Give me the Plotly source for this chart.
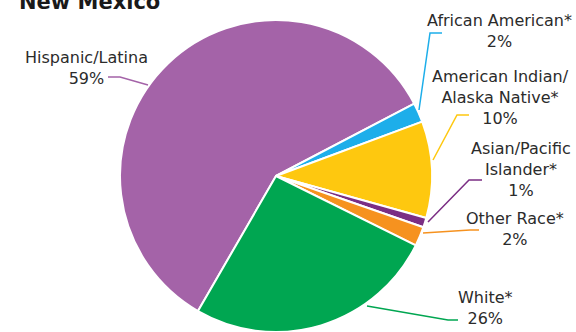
import plotly.graph_objects as go

# Data
groups = ["Hispanic/Latina", "African American*", "American Indian/<br>Alaska Native*",
          "Asian/Pacific<br>Islander*", "Other Race*", "White*"]
shares = [59, 2, 10, 1, 2, 26]
colors = ["#A463A8", "#1DAEEA", "#FEC80F", "#7B2E84", "#F6921F", "#00A651"]

W, H = 576, 332
FONT = "DejaVu Sans"


def px(x):
    return x / W


def py(y):
    return 1 - y / H


fig = go.Figure()

fig.add_trace(go.Pie(
    labels=groups,
    values=shares,
    sort=False,
    direction="clockwise",
    rotation=210,
    marker=dict(colors=colors, line=dict(color="white", width=2)),
    textinfo="none",
    hoverinfo="label+percent",
    showlegend=False,
    domain=dict(x=[px(120), px(432)], y=[0, py(20)]),
))

# label placement (pixel centres) and leader lines
label_pos = [(86, 68), (499, 31), (500, 97), (521, 169), (515, 229), (485, 308)]
leaders = [
    [(108, 77), (120, 77), (148, 85)],
    [(442, 33), (430, 33), (419, 110)],
    [(469, 115), (457, 115), (433, 160)],
    [(482, 180), (469, 180), (428, 222)],
    [(479, 230), (470, 230), (423, 233)],
    [(458, 320), (448, 320), (367, 306)],
]

annotations = []
shapes = []
for name, val, col, (lx, ly), pts in zip(groups, shares, colors, label_pos, leaders):
    annotations.append(dict(
        x=px(lx), y=py(ly), xref="paper", yref="paper",
        text=f"{name}<br>{val}%", showarrow=False, align="center",
        xanchor="center", yanchor="middle",
        font=dict(family=FONT, size=16, color="#2b2b2b"),
    ))
    path = "M " + " L ".join(f"{px(x)},{py(y)}" for x, y in pts)
    shapes.append(dict(type="path", path=path, xref="paper", yref="paper",
                       line=dict(color=col, width=1.5)))

# title is cut off at the top edge, as in the source image
annotations.append(dict(
    x=px(17), y=py(2), xref="paper", yref="paper", text="<b>New Mexico</b>",
    showarrow=False, xanchor="left", yanchor="middle",
    font=dict(family=FONT, size=21, color="#1a1a1a"),
))

fig.update_layout(
    width=W, height=H,
    margin=dict(l=0, r=0, t=0, b=0),
    paper_bgcolor="white",
    plot_bgcolor="white",
    annotations=annotations,
    shapes=shapes,
)

fig.write_html("out.html", config={"displayModeBar": False},
               post_script="document.body.style.margin='0';")
